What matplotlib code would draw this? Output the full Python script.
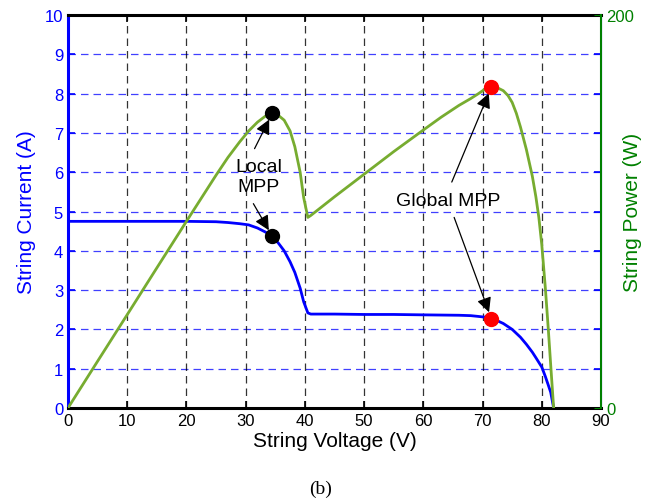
import numpy as np
import matplotlib.pyplot as plt

plt.rcParams['font.family'] = ['Liberation Sans', 'DejaVu Sans']

# values
voltage = [0, 5, 10, 15, 20, 25, 27, 29, 30.5, 32, 33.3, 34.5, 35.5, 36.5, 37.5, 38.3, 39.2,
           39.8, 40.5, 41, 45, 50, 55, 60, 63, 66, 68, 69.3, 70.5, 71.5, 72.5, 73.5, 74.3,
           75, 75.7, 76.4, 77.4, 78.4, 79, 79.5, 80, 80.6, 81.1, 81.5, 82]
current = [4.75, 4.75, 4.75, 4.75, 4.75, 4.74, 4.72, 4.69, 4.66, 4.58, 4.48, 4.37, 4.2, 4.0,
           3.72, 3.45, 3.05, 2.7, 2.42, 2.39, 2.39, 2.38, 2.38, 2.37, 2.365, 2.36, 2.35, 2.33,
           2.31, 2.27, 2.22, 2.15, 2.07, 2.0, 1.9, 1.8, 1.62, 1.42, 1.28, 1.16, 1.04, 0.8,
           0.58, 0.4, 0.0]
power = [0, 23.8, 47.5, 71.3, 95, 118.5, 127.5, 135.5, 141, 145.5, 148.5, 149.6, 149, 146.5,
         141, 133, 120, 107, 97, 98, 107.5, 119, 130.5, 141.5, 148, 154, 157.5, 160, 162.5,
         163.5, 163, 161.5, 159, 155.5, 150, 143, 131.5, 118, 107.5, 97, 83, 61, 40, 22, 0]

local_v, local_i, local_p = 34.5, 4.37, 150
global_v, global_i, global_p = 71.5, 2.27, 163.5

blue = '#0000ff'
green = '#77ac30'
dkgreen = '#008000'

fig = plt.figure(figsize=(6.55, 5.02), dpi=100)
ax = fig.add_axes([0.1038, 0.1853, 0.8138, 0.7827])
ax2 = ax.twinx()

ax.set_xlim(0, 90)
ax.set_ylim(0, 10)
ax2.set_ylim(0, 200)
ax.set_xticks(range(0, 91, 10))
ax.set_yticks(range(0, 11))
ax2.set_yticks([0, 200])

# grid: blue horizontal, black vertical
for y in range(1, 10):
    ax.axhline(y, color=blue, lw=0.9, ls=(0, (6, 4)), alpha=0.75, zorder=1)
for x in range(10, 90, 10):
    ax.axvline(x, color='black', lw=0.9, ls=(0, (6, 4)), alpha=0.8, zorder=1)

ax.plot(voltage, current, color=blue, lw=2, zorder=3)
ax2.plot(voltage, power, color=green, lw=2, zorder=3)

ax.plot(local_v, local_i, 'o', color='black', ms=10, zorder=4)
ax2.plot(local_v, local_p, 'o', color='black', ms=10, zorder=4)
ax.plot(global_v, global_i, 'o', color='red', ms=10, zorder=4)
ax2.plot(global_v, global_p, 'o', color='red', ms=10, zorder=4)

ax.tick_params(axis='y', colors=blue, direction='in', right=True, labelsize=12, length=5, width=1.2)
ax.tick_params(axis='x', direction='in', top=True, labelsize=12, length=5, width=1.2)
ax2.tick_params(axis='y', colors=dkgreen, direction='in', labelsize=12, length=5)
ax.spines['left'].set_color(blue)
ax.spines['left'].set_linewidth(2.2)
ax.spines['bottom'].set_linewidth(2.2)
ax.spines['top'].set_linewidth(2.2)
ax.spines['right'].set_color(blue)
ax2.spines['right'].set_color(dkgreen)
ax2.spines['right'].set_linewidth(1.5)
for s in ['left', 'top', 'bottom']:
    ax2.spines[s].set_visible(False)

ax.set_xlabel('String Voltage (V)', fontsize=15, labelpad=2)
ax.set_ylabel('String Current (A)', fontsize=15, color=blue, labelpad=6)
ax2.set_ylabel('String Power (W)', fontsize=15, color=dkgreen, labelpad=-8)

arrow = dict(arrowstyle='-|>', color='black', lw=0.9, mutation_scale=22, shrinkA=0, shrinkB=5)
ax.text(32.2, 5.9, 'Local\nMPP', fontsize=14, ha='center', va='center', linespacing=1.25, zorder=5)
ax.annotate('', xy=(local_v, 7.5), xytext=(31.5, 6.6), arrowprops=arrow, zorder=5)
ax.annotate('', xy=(local_v, local_i), xytext=(31.3, 5.2), arrowprops=arrow, zorder=5)

ax.text(64.2, 5.27, 'Global MPP', fontsize=14, ha='center', va='center', zorder=5)
ax.annotate('', xy=(global_v, 8.17), xytext=(64.8, 5.75), arrowprops=arrow, zorder=5)
ax.annotate('', xy=(global_v, global_i), xytext=(65.2, 4.85), arrowprops=arrow, zorder=5)

fig.text(0.489, 0.008, '(b)', fontsize=14, family='Liberation Serif', ha='center', va='bottom')

fig.savefig('out.png', dpi=100)
